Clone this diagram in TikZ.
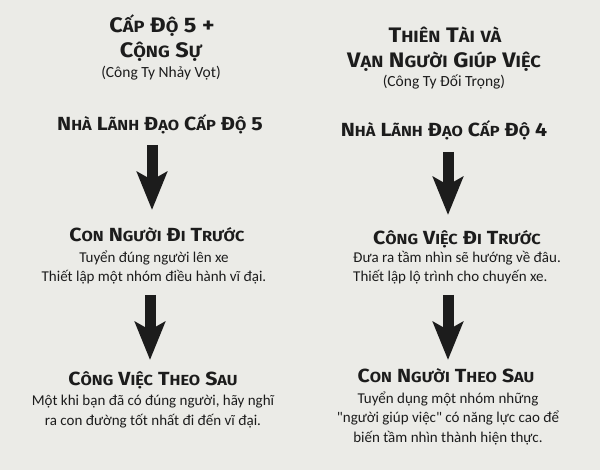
\documentclass[tikz,border=0pt]{standalone}
\usepackage{fontspec}
\setmainfont{Carlito}
\newfontfamily\headfont{Fira Sans}[FakeStretch=1.12]
\usepackage{tikz}
\usepackage{xcolor}
\usetikzlibrary{arrows.meta, positioning}

\definecolor{paper}{RGB}{235,235,231}
\definecolor{ink}{RGB}{28,28,28}
\newcommand\lcA[1]{{\fontsize{16.3}{20}\selectfont #1}}
\newcommand\lcB[1]{{\fontsize{14.6}{20}\selectfont #1}}
\newcommand\dq{{\addfontfeature{Ligatures=TeXOff}"}}

\begin{document}
\begin{tikzpicture}[x=1pt, y=-1pt, inner sep=0pt,
    title/.style={anchor=base, text=ink, font=\headfont\fontsize{21}{24}\selectfont\bfseries},
    head/.style={anchor=base, text=ink, font=\headfont\fontsize{19}{22}\selectfont\bfseries},
    sub/.style={anchor=base, text=ink, font=\fontsize{15.5}{18}\selectfont},
    body/.style={anchor=base, text=ink, align=center, font=\fontsize{15}{19.5}\selectfont},
    bigarrow/.style={draw=ink, line width=11pt, -{Stealth[length=38pt, width=30pt, inset=8pt]}}]

        \fill[paper] (0,0) rectangle (600,470);
        \useasboundingbox (0,0) rectangle (600,470);

        % left column
        \node[title] (t5a) at (162,33) {C\lcA{ẤP} Đ\lcA{Ộ} 5 +};
        \node[title] (t5b) at (161,58) {C\lcA{ỘNG} S\lcA{Ự}};
        \node[sub] (t5c) at (161,78) {(Công Ty Nhảy Vọt)};
        \node[head] (lead5) at (160,131) {N\lcB{HÀ} L\lcB{ÃNH} Đ\lcB{ẠO} C\lcB{ẤP} Đ\lcB{Ộ} 5};
        \node[head] (who5) at (157,242) {C\lcB{ON} N\lcB{GƯỜI} Đ\lcB{I} T\lcB{RƯỚC}};
        \node[body] (who5txt) at (154,282) {Tuyển đúng người lên xe\\Thiết lập một nhóm điều hành vĩ đại.};
        \node[head] (what5) at (153,385) {C\lcB{ÔNG} V\lcB{IỆC} T\lcB{HEO} S\lcB{AU}};
        \node[body] (what5txt) at (153,425) {Một khi bạn đã có đúng người, hãy nghĩ\\ra con đường tốt nhất đi đến vĩ đại.};

        % right column
        \node[title] (t4a) at (445,43) {T\lcA{HIÊN} T\lcA{ÀI} \lcA{VÀ}};
        \node[title] (t4b) at (444,68) {V\lcA{ẠN} N\lcA{GƯỜI} G\lcA{IÚP} V\lcA{IỆC}};
        \node[sub] (t4c) at (444,87) {(Công Ty Đối Trọng)};
        \node[head] (lead4) at (444,137) {N\lcB{HÀ} L\lcB{ÃNH} Đ\lcB{ẠO} C\lcB{ẤP} Đ\lcB{Ộ} 4};
        \node[head] (what4) at (457,245) {C\lcB{ÔNG} V\lcB{IỆC} Đ\lcB{I} T\lcB{RƯỚC}};
        \node[body, align=left, anchor=base west] (what4txt) at (353,282) {Đưa ra tầm nhìn sẽ hướng về đâu.\\Thiết lập lộ trình cho chuyến xe.};
        \node[head] (who4) at (446,383) {C\lcB{ON} N\lcB{GƯỜI} T\lcB{HEO} S\lcB{AU}};
        \node[body] (who4txt) at (448,442) {Tuyển dụng một nhóm những\\\dq người giúp việc\dq{} có năng lực cao để\\biến tầm nhìn thành hiện thực.};

        \draw[bigarrow] ([xshift=-8pt, yshift=-14pt]lead5.base) -- ([xshift=-5pt, yshift=32pt]who5.base);
        \draw[bigarrow] ([xshift=-4pt, yshift=-13pt]who5txt.base) -- ([xshift=-3pt, yshift=25pt]what5.base);
        \draw[bigarrow] ([xshift=4pt, yshift=-15pt]lead4.base) -- ([xshift=-9pt, yshift=30pt]what4.base);
        \draw[bigarrow] ([xshift=-9pt, yshift=-50pt]what4.base) -- ([xshift=2pt, yshift=23pt]who4.base);
    \end{tikzpicture}
\end{document}
